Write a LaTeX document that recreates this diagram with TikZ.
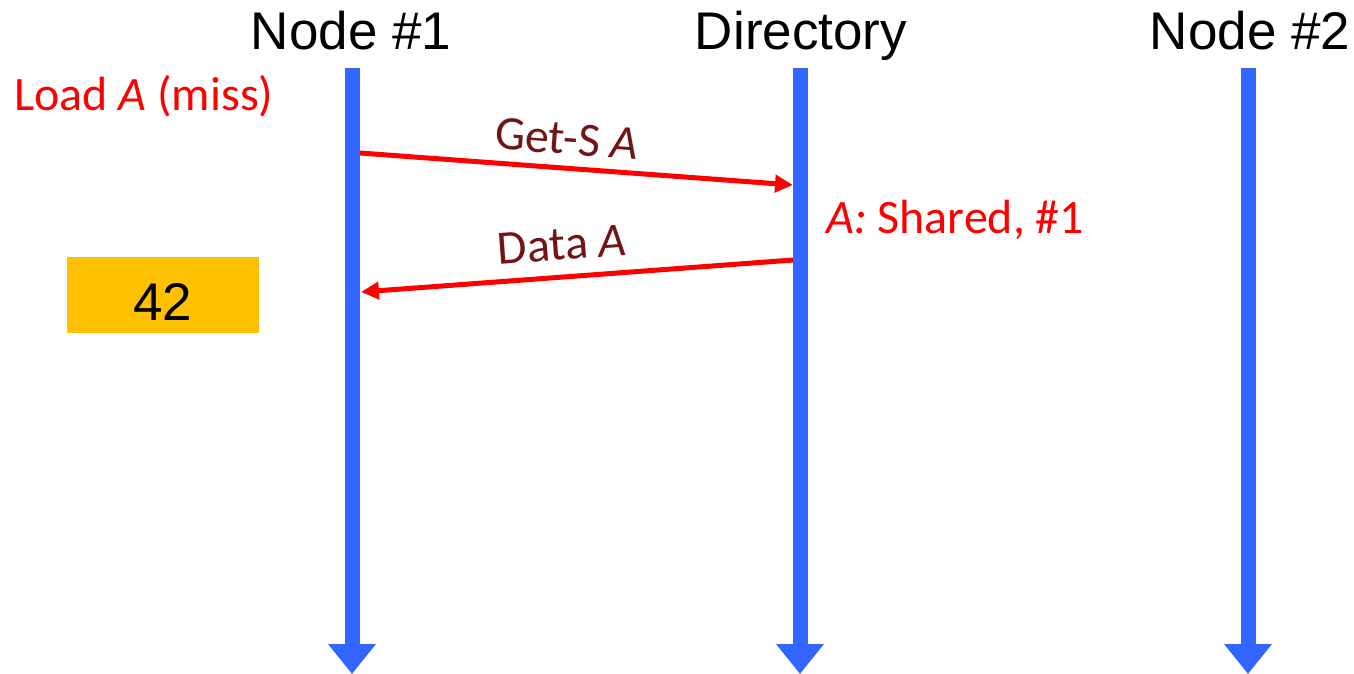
\documentclass[tikz,border=0pt]{standalone}
\usepackage{fontspec}
\setmainfont{Liberation Sans}
\newfontfamily\labelfont{Carlito}
\usetikzlibrary{arrows.meta}

\definecolor{lifeblue}{RGB}{51,102,255}
\definecolor{msgred}{RGB}{255,0,0}
\definecolor{msgtext}{RGB}{112,22,22}
\definecolor{cachegold}{RGB}{255,192,0}

\tikzset{
  title/.style={font=\fontsize{53}{60}\selectfont, anchor=base, inner sep=0pt},
  lifeline/.style={draw=lifeblue, line width=15pt,
    -{Triangle[length=30pt,width=46pt]}},
  msg/.style={draw=msgred, line width=5pt,
    -{Triangle[length=18pt,width=17pt]}},
  msglabel/.style={font=\labelfont\fontsize{48}{56}\selectfont, text=msgtext,
    inner sep=0pt},
  note/.style={font=\labelfont\fontsize{48}{56}\selectfont, text=msgred,
    anchor=base west, inner sep=0pt},
  cache/.style={fill=cachegold, minimum width=192pt, minimum height=76pt,
    inner sep=0pt, text height=51pt, text depth=0pt,
    font=\fontsize{53}{60}\selectfont}
}

\begin{document}
\begin{tikzpicture}[x=1pt, y=-1pt]
  \useasboundingbox (0,0) rectangle (1354,674);

  % column headings
  \node[title] (t1) at (351,50) {Node \#1};
  \node[title] (td) at (801,50) {Directory};
  \node[title] (t2) at (1250,50) {Node \#2};

  % lifelines
  \coordinate (n1top) at (352,68);   \coordinate (n1bot) at (352,674);
  \coordinate (dtop)  at (800,68);   \coordinate (dbot)  at (800,674);
  \coordinate (n2top) at (1248,68);  \coordinate (n2bot) at (1248,674);
  \draw[lifeline] (n1top) -- (n1bot);
  \draw[lifeline] (dtop) -- (dbot);
  \draw[lifeline] (n2top) -- (n2bot);

  % message end points on the lifeline edges
  \coordinate (n1-req)  at (360,153);
  \coordinate (dir-req) at (793,185);
  \coordinate (dir-dat) at (793,260);
  \coordinate (n1-dat)  at (361,292);

  \draw[msg] (n1-req) -- node[msglabel, sloped, anchor=base, pos=0.473, yshift=14pt]
    {Get-S \textit{A}} (dir-req);
  \draw[msg] (dir-dat) -- node[msglabel, sloped, anchor=base, pos=0.529, yshift=17pt]
    {Data \textit{A}} (n1-dat);

  % annotations
  \node[note] (load) at (14,111) {Load \textit{A} (miss)};
  \node[note] (state) at (826,233) {\textit{A:} Shared, \#1};

  % cached value
  \node[cache] (val) at (162.5,294.5) {42};
\end{tikzpicture}
\end{document}
